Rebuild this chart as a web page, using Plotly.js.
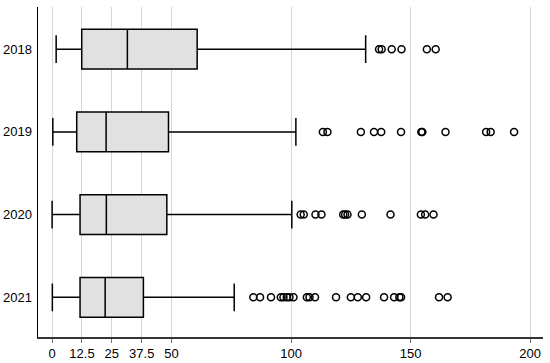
<!DOCTYPE html>
<html>
<head>
<meta charset="utf-8">
<script src="https://cdn.plot.ly/plotly-3.0.1.min.js"></script>
<style>html,body{margin:0;padding:0;background:#fff}#chart{width:550px;height:363px}</style>
</head>
<body>
<div id="chart"></div>
<script>
const years = ["2018", "2019", "2020", "2021"];
const lowerWhisker = [1.7, 0.3, 0.0, 0.1];
const q1Values = [12.4, 10.3, 11.7, 11.7];
const medianValues = [31.5, 22.6, 22.7, 22.2];
const q3Values = [60.7, 48.7, 48.0, 38.2];
const upperWhisker = [131.2, 102.0, 100.3, 76.2];

const outliers2018 = [136.8, 137.9, 142.1, 146.2, 156.8, 160.5];
const outliers2019 = [113.3, 115.2, 129.2, 134.7, 137.7, 146.0, 154.5, 154.9, 164.6, 181.6, 183.5, 193.3];
const outliers2020 = [104.0, 105.3, 110.2, 112.7, 121.8, 122.6, 123.6, 129.6, 141.6, 154.3, 156.1, 159.6];
const outliers2021 = [84.2, 87.0, 91.6, 95.7, 96.8, 98.2, 99.3, 101.0, 106.6, 107.7, 110.0, 118.8, 125.0, 127.9, 131.4, 138.9, 143.1, 145.3, 146.0, 161.9, 165.5];

const tickValues = [0, 12.5, 25, 37.5, 50, 100, 150, 200];
const tickLabels = ["0", "12.5", "25", "37.5", "50", "100", "150", "200"];

const outlierGroups = [outliers2018, outliers2019, outliers2020, outliers2021];
const ox = [], oy = [];
outlierGroups.forEach((g, i) => g.forEach(v => { ox.push(v); oy.push(years[i]); }));

const boxTrace = {
  type: 'box',
  orientation: 'h',
  y: years,
  q1: q1Values,
  median: medianValues,
  q3: q3Values,
  lowerfence: lowerWhisker,
  upperfence: upperWhisker,
  boxpoints: false,
  fillcolor: '#e1e1e1',
  line: {color: '#000', width: 1.5},
  whiskerwidth: 0.7,
  width: 0.48,
  showlegend: false,
  hoverinfo: 'skip'
};

const outlierTrace = {
  type: 'scatter',
  mode: 'markers',
  x: ox,
  y: oy,
  marker: {symbol: 'circle-open', size: 7, color: '#000', line: {width: 1.5, color: '#000'}},
  showlegend: false,
  hoverinfo: 'skip'
};

const layout = {
  width: 550,
  height: 363,
  margin: {l: 38, r: 7, t: 7, b: 26},
  paper_bgcolor: '#fff',
  plot_bgcolor: '#fff',
  font: {family: 'Liberation Sans, Arial, sans-serif', size: 13, color: '#000'},
  showlegend: false,
  xaxis: {
    range: [-5.9, 205.4],
    tickvals: tickValues,
    ticktext: tickLabels,
    showgrid: true,
    gridcolor: '#d6d6d6',
    gridwidth: 1,
    zeroline: false,
    showline: true,
    linecolor: '#333',
    linewidth: 1.5,
    ticks: 'outside',
    ticklen: 4,
    tickcolor: '#777',
    tickwidth: 1,
    tickfont: {size: 13, color: '#000'}
  },
  yaxis: {
    type: 'category',
    categoryorder: 'array',
    categoryarray: years,
    range: [3.48, -0.51],
    showgrid: false,
    zeroline: false,
    showline: true,
    linecolor: '#000',
    linewidth: 1.5,
    ticks: '',
    ticklabelstandoff: 2,
    tickfont: {size: 13, color: '#000'}
  }
};

Plotly.newPlot('chart', [boxTrace, outlierTrace], layout, {displayModeBar: false, staticPlot: true});
</script>
</body>
</html>
